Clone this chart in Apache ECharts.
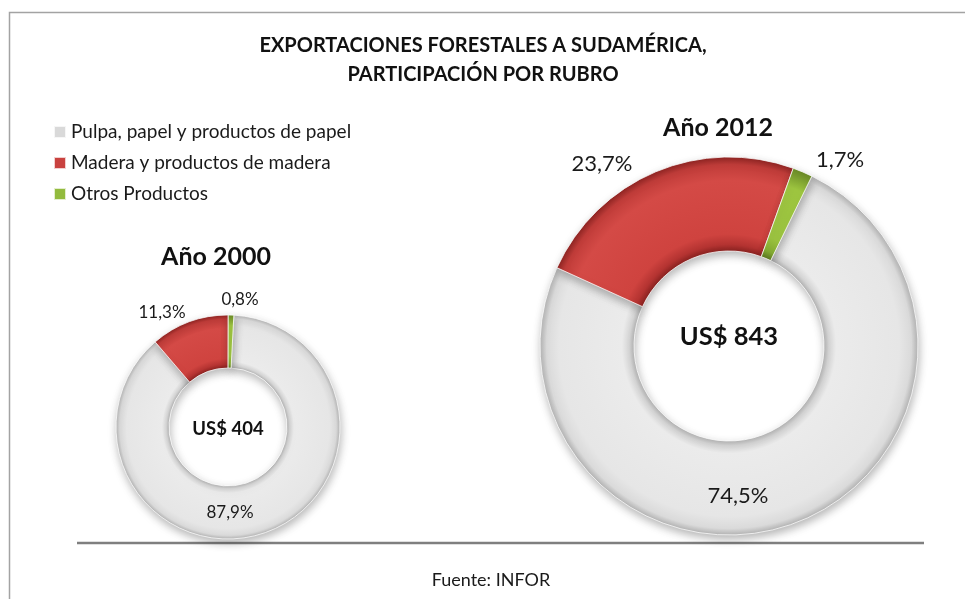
<!DOCTYPE html>
<html><head><meta charset="utf-8">
<script src="https://cdn.jsdelivr.net/npm/echarts@6/dist/echarts.min.js"></script>
<style>html,body{margin:0;padding:0;background:#fff}#c{width:965px;height:599px}</style>
</head><body><div id="c"></div>
<script>
// ---- data ----
const categories = ['Pulpa, papel y productos de papel', 'Madera y productos de madera', 'Otros Productos'];
const values2000 = [87.9, 11.3, 0.8];
const values2012 = [74.5, 23.7, 1.7];
const years = ['Año 2000', 'Año 2012'];
const totals = [404, 843];
const titleLines = ['EXPORTACIONES FORESTALES A SUDAMÉRICA,', 'PARTICIPACIÓN POR RUBRO'];
const sourceText = 'Fuente: INFOR';

// ---- layout / style ----
const FONT = 'Lato, "Open Sans", sans-serif';
const legendColors = ['#d9d9d9', '#c9423f', '#93bb3e'];
const pies = [
  { values: values2000, center: [228, 427], r: [59, 112], start: 87, labelSize: 17, totalSize: 18.5,
    yearPos: [216, 257], totalDy: 2, labelOff: [[2, 86], [-66, -114], [12, -127]] },
  { values: values2012, center: [729, 346], r: [95, 189], start: 64, labelSize: 22, totalSize: 25.5,
    yearPos: [718, 128], totalDy: -9, labelOff: [[9, 150], [-127, -182], [111, -186]] }
];
const ringStops = [
  [[0, '#b3b3b3'], [0.05, '#d4d4d4'], [0.13, '#ebebeb'], [0.8, '#e6e6e6'], [0.93, '#dadada'], [1, '#b4b4b4']],
  [[0, '#8a2321'], [0.07, '#b43331'], [0.18, '#cf433f'], [0.75, '#d44a46'], [0.92, '#c03c39'], [1, '#8e2422']],
  [[0, '#5c7820'], [0.08, '#84ab32'], [0.22, '#9cc440'], [0.8, '#9ec640'], [1, '#6a8a26']]
];
function ringGrad(cx, cy, ri, ro, stops) {
  const cs = stops.map(([t, c]) => ({ offset: (ri + t * (ro - ri)) / ro, color: c }));
  cs.unshift({ offset: 0, color: stops[0][1] });
  return { type: 'radial', x: cx, y: cy, r: ro, global: true, colorStops: cs };
}
const fmtPct = v => v.toFixed(1).replace('.', ',') + '%';

const series = pies.map(p => ({
  type: 'pie',
  center: p.center,
  radius: p.r,
  startAngle: p.start,
  clockwise: true,
  avoidLabelOverlap: false,
  animation: false,
  emphasis: { disabled: true },
  itemStyle: { borderColor: 'rgba(255,255,255,0.75)', borderWidth: 1,
    shadowBlur: 9, shadowOffsetY: 4, shadowOffsetX: 1, shadowColor: 'rgba(0,0,0,0.28)' },
  label: { show: true, position: 'outside', formatter: q => fmtPct(q.value),
    fontFamily: FONT, fontSize: p.labelSize, color: '#1a1a1a' },
  labelLine: { show: false },
  labelLayout: q => {
    const o = p.labelOff[q.dataIndex];
    return { x: p.center[0] + o[0], y: p.center[1] + o[1], align: 'center', verticalAlign: 'middle' };
  },
  data: categories.map((n, i) => ({ name: n, value: p.values[i],
    itemStyle: { color: ringGrad(p.center[0], p.center[1], p.r[0], p.r[1], ringStops[i]) } }))
}));

function txt(x, y, text, size, weight, color) {
  return { type: 'text', x: x, y: y, z: 100, silent: true,
    style: { text: text, fill: color || '#111', fontFamily: FONT, fontSize: size, fontWeight: weight || 'normal',
      textAlign: 'center', textVerticalAlign: 'middle', align: 'center', verticalAlign: 'middle' } };
}

const graphics = [
  { type: 'rect', silent: true, z: 0, shape: { x: 9.5, y: 12.5, width: 2000, height: 2000 },
    style: { fill: null, stroke: '#a3a3a3', lineWidth: 1.5 } },
  { type: 'line', silent: true, shape: { x1: 77, y1: 543, x2: 924, y2: 543 },
    style: { stroke: '#7f7f7f', lineWidth: 2.5 } },
  txt(483, 46, titleLines[0], 20, 'bold'),
  txt(483, 75, titleLines[1], 20, 'bold'),
  txt(491, 580, sourceText, 18, 'normal', '#1a1a1a')
];
pies.forEach((p, i) => {
  graphics.push(txt(p.yearPos[0], p.yearPos[1], years[i], 25, 'bold'));
  graphics.push(txt(p.center[0], p.center[1] + p.totalDy, 'US$ ' + totals[i], p.totalSize, 'bold'));
});

const chart = echarts.init(document.getElementById('c'), null, { renderer: 'canvas' });
chart.setOption({
  backgroundColor: '#fff',
  animation: false,
  legend: {
    orient: 'vertical', left: 48, top: 116, itemWidth: 12, itemHeight: 12, itemGap: 9, icon: 'rect',
    selectedMode: false,
    textStyle: { fontFamily: FONT, fontSize: 19, color: '#1a1a1a', lineHeight: 22 },
    data: categories.map((n, i) => ({ name: n, itemStyle: { color: legendColors[i] } }))
  },
  graphic: graphics,
  series: series
});
</script></body></html>
